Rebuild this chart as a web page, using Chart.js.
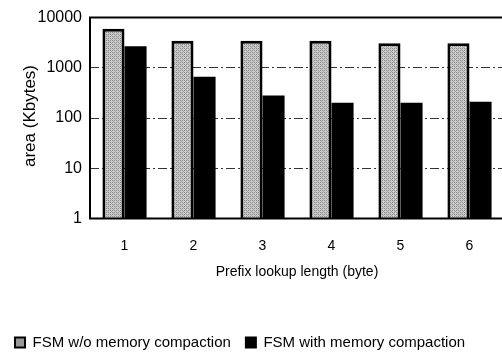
<!DOCTYPE html>
<html>
<head>
<meta charset="utf-8">
<script src="https://cdn.jsdelivr.net/npm/chart.js@4/dist/chart.umd.min.js"></script>
<style>
  html, body { margin: 0; padding: 0; background: #fff; overflow: hidden; }
  #wrap { width: 512px; height: 360px; }
</style>
</head>
<body>
<div id="wrap"><canvas id="chart" width="512" height="360"></canvas></div>
<script>
const categories = ['1', '2', '3', '4', '5', '6'];
const withoutCompaction = [6000, 3450, 3450, 3450, 3100, 3100];
const withCompaction = [2700, 660, 280, 202, 202, 211];
const yTicks = [1, 10, 100, 1000, 10000];

const FONT = '"Liberation Sans", Arial, sans-serif';

// halftone-ish gray fill for the first series
function makePattern() {
    const c = document.createElement('canvas');
    c.width = 4; c.height = 4;
    const g = c.getContext('2d');
    g.fillStyle = '#cccccc';
    g.fillRect(0, 0, 4, 4);
    g.fillStyle = '#8a8a8a';
    g.fillRect(0, 0, 1, 1); g.fillRect(2, 2, 1, 1);
    g.fillRect(2, 0, 1, 1); g.fillRect(0, 2, 1, 1);
    g.fillStyle = '#a8a8a8';
    g.fillRect(1, 1, 1, 1); g.fillRect(3, 3, 1, 1);
    return g.createPattern(c, 'repeat');
}
const grayFill = makePattern();

// plot frame + rotated y title sitting close to the tick labels
const frame = {
    id: 'frame',
    afterDatasetsDraw(chart) {
        const { ctx, chartArea: a } = chart;
        ctx.save();
        ctx.strokeStyle = '#000';
        ctx.lineWidth = 2;
        ctx.beginPath();
        ctx.moveTo(a.right + 5, a.top);
        ctx.lineTo(a.left, a.top);
        ctx.lineTo(a.left, a.bottom);
        ctx.lineTo(a.right + 5, a.bottom);
        ctx.stroke();

        ctx.translate(30, 116);
        ctx.rotate(-Math.PI / 2);
        ctx.fillStyle = '#000';
        ctx.font = '17px ' + FONT;
        ctx.textAlign = 'center';
        ctx.textBaseline = 'middle';
        ctx.fillText('area (Kbytes)', 0, 0);
        ctx.restore();
    }
};

new Chart(document.getElementById('chart').getContext('2d'), {
    type: 'bar',
    data: {
        labels: categories,
        datasets: [
            {
                label: 'FSM w/o memory compaction',
                data: withoutCompaction,
                backgroundColor: grayFill,
                borderColor: '#000',
                borderWidth: 3,
                categoryPercentage: 0.64,
                barPercentage: 1.0,
            },
            {
                label: 'FSM with memory compaction',
                data: withCompaction,
                backgroundColor: '#000',
                borderColor: '#000',
                borderWidth: 0,
                categoryPercentage: 0.64,
                barPercentage: 1.0,
            }
        ]
    },
    options: {
        responsive: false,
        animation: false,
        layout: { padding: { left: 0, right: 8, top: 8, bottom: 0 } },
        scales: {
            y: {
                type: 'logarithmic',
                min: 1,
                max: 10000,
                afterBuildTicks: (axis) => { axis.ticks = yTicks.map(v => ({ value: v })); },
                afterFit: (axis) => { axis.width = 90; },
                ticks: {
                    color: '#000',
                    padding: 8,
                    font: { family: FONT, size: 16 },
                    callback: (v) => String(v),
                },
                grid: {
                    color: (ctx) => (ctx.tick && (ctx.tick.value === 1 || ctx.tick.value === 10000)) ? 'rgba(0,0,0,0)' : '#333',
                    lineWidth: 1,
                    drawTicks: false,
                },
                border: { display: false, dash: [9, 3, 2, 3] },
            },
            x: {
                grid: { display: false },
                border: { display: false },
                ticks: {
                    color: '#000',
                    padding: 11,
                    font: { family: FONT, size: 14 },
                },
                title: {
                    display: true,
                    text: 'Prefix lookup length (byte)',
                    color: '#000',
                    font: { family: FONT, size: 14 },
                    padding: { top: -1, bottom: 39 },
                },
            }
        },
        plugins: {
            legend: {
                position: 'bottom',
                align: 'start',
                labels: {
                    color: '#000',
                    font: { family: FONT, size: 15 },
                    boxWidth: 10,
                    boxHeight: 10,
                    padding: 15,
                    generateLabels: (chart) => chart.data.datasets.map((ds, i) => ({
                        text: ds.label,
                        fillStyle: i === 0 ? '#999' : '#000',
                        strokeStyle: '#000',
                        lineWidth: 2,
                        datasetIndex: i,
                    })),
                },
            },
            tooltip: { enabled: false },
        }
    },
    plugins: [frame]
});
</script>
</body>
</html>
